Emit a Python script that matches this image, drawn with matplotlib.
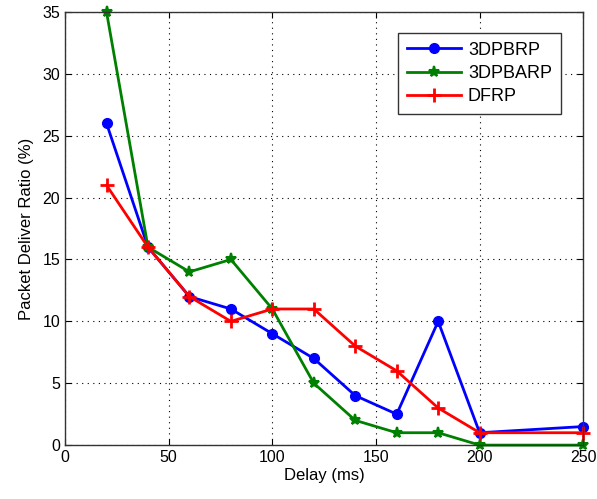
import matplotlib

matplotlib.use("Agg")

import matplotlib.pyplot as plt

delay = [20, 40, 60, 80, 100, 120, 140, 160, 180, 200, 250]
pbrp = [26, 16, 12, 11, 9, 7, 4, 2.5, 10, 1, 1.5]
pbarp = [35, 16, 14, 15, 11, 5, 2, 1, 1, 0, 0]
dfrp = [21, 16, 12, 10, 11, 11, 8, 6, 3, 1, 1]

x_ticks = [0, 50, 100, 150, 200, 250]
y_ticks = [0, 5, 10, 15, 20, 25, 30, 35]

plt.rcParams["font.family"] = ["Liberation Sans", "DejaVu Sans"]

fig = plt.figure(figsize=(5.97, 4.99), dpi=100)
ax = fig.add_axes([0.109, 0.108, 0.868, 0.868])

ax.plot(delay, pbrp, color="#0000ff", linewidth=2, marker="o", markersize=7, label="3DPBRP", clip_on=False)
ax.plot(delay, pbarp, color="#008000", linewidth=2, marker="*", markersize=8, markeredgewidth=1.5, label="3DPBARP", clip_on=False)
ax.plot(delay, dfrp, color="#ff0000", linewidth=2, marker="+", markersize=10, markeredgewidth=2, label="DFRP", clip_on=False)

ax.set_xlim(0, 250)
ax.set_ylim(0, 35)
ax.set_xticks(x_ticks)
ax.set_yticks(y_ticks)
ax.tick_params(direction="in", length=4, labelsize=11.5, top=True, right=True, labeltop=False, labelright=False)
ax.grid(True, color="#000000", linestyle=(0, (1, 4)), linewidth=0.8)
for spine in ax.spines.values():
    spine.set_color("#333333")
    spine.set_linewidth(1)

ax.set_xlabel("Delay (ms)", fontsize=12, labelpad=2)
ax.set_ylabel("Packet Deliver Ratio (%)", fontsize=12, labelpad=6)

leg = ax.legend(loc="upper right", bbox_to_anchor=(0.957, 0.952), borderaxespad=0, fontsize=13,
                fancybox=False, framealpha=1, edgecolor="#333333", handlelength=3.0, borderpad=0.5,
                labelspacing=0.35, handletextpad=0.4)
leg.get_frame().set_linewidth(1)

fig.savefig("out.png", dpi=100)
